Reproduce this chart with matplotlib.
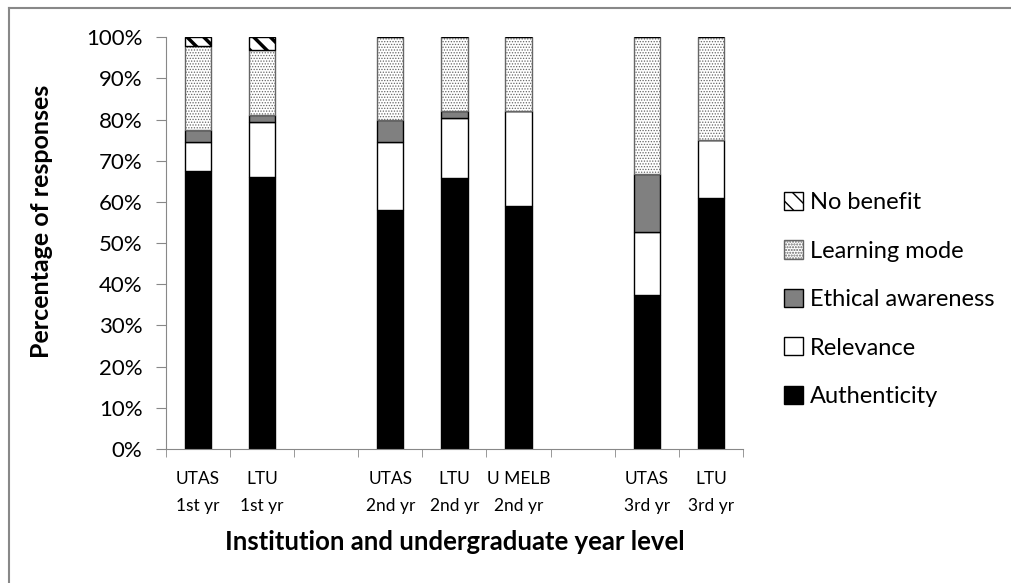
import numpy as np
import matplotlib.pyplot as plt
from matplotlib.lines import Line2D

plt.rcParams['font.family'] = ['Lato', 'DejaVu Sans']

groups = ['UTAS\n1st yr', 'LTU\n1st yr', 'UTAS\n2nd yr', 'LTU\n2nd yr',
          'U MELB\n2nd yr', 'UTAS\n3rd yr', 'LTU\n3rd yr']
slots = [0, 1, 3, 4, 5, 7, 8]   # empty slots 2 and 6 separate year levels

authenticity = [67.5, 66.0, 58.0, 65.8, 59.0, 37.3, 61.0]
relevance    = [7.0, 13.5, 16.5, 14.5, 23.0, 15.5, 14.0]
ethical      = [3.0, 1.7, 5.5, 1.8, 0.0, 13.9, 0.0]
learning     = [20.5, 15.6, 20.0, 17.9, 18.0, 33.3, 25.0]
no_benefit   = [2.0, 3.2, 0.0, 0.0, 0.0, 0.0, 0.0]

# name, values, face, hatch, hatch line width
series = [
    ('Authenticity', authenticity, 'black', None, 1.0),
    ('Relevance', relevance, 'white', None, 1.0),
    ('Ethical awareness', ethical, '#808080', None, 1.0),
    ('Learning mode', learning, 'white', '......', 0.6),
    ('No benefit', no_benefit, 'white', '\\\\', 2.5),
]

fig = plt.figure(figsize=(10.12, 5.83), dpi=100)
ax = fig.add_axes([0.164, 0.23, 0.57, 0.706])

bottom = np.zeros(len(slots))
handles = []
for name, vals, col, hatch, hlw in series:
    vals = np.array(vals) / 100
    with plt.rc_context({'hatch.linewidth': hlw}):
        h = ax.bar(slots, vals, 0.41, bottom=bottom, color=col, hatch=hatch,
                   edgecolor='black', linewidth=1.0, label=name)
    if name == 'Learning mode':
        for p in h:
            p.set_edgecolor('#666666')
    handles.append(h)
    bottom += vals

ax.set_xlim(-0.5, 8.5)
ax.set_ylim(0, 1)
yt = np.arange(0, 1.01, 0.1)
ax.set_yticks(yt)
ax.set_yticklabels([f'{int(round(v * 100))}%' for v in yt], fontsize=16)
ax.set_xticks(slots)
ax.set_xticklabels(groups, fontsize=12.5, linespacing=1.8)
ax.set_xticks(np.arange(-0.5, 8.6, 1), minor=True)
ax.tick_params(axis='x', which='major', length=0, pad=16)
ax.tick_params(axis='x', which='minor', length=6, color='#888888')
ax.tick_params(axis='y', length=7, color='#888888', pad=10)

for s in ['top', 'right']:
    ax.spines[s].set_visible(False)
for s in ['left', 'bottom']:
    ax.spines[s].set_color('#888888')

ax.set_ylabel('Percentage of responses', fontsize=18, fontweight='bold')
ax.yaxis.set_label_coords(-0.195, 0.553)
ax.set_xlabel('Institution and undergraduate year level', fontsize=18.5, fontweight='bold', labelpad=12)

leg = ax.legend(handles[::-1], [s[0] for s in series][::-1], loc='center left',
                bbox_to_anchor=(1.055, 0.363), frameon=False, fontsize=17,
                handlelength=0.8, handleheight=0.8, handletextpad=0.3,
                labelspacing=1.15, borderaxespad=0)

# chart frame: only the left and top edges show in the reference
fig.lines.append(Line2D([0.0085, 0.0085], [0, 0.986], transform=fig.transFigure,
                        color='#888888', linewidth=1.5))
fig.lines.append(Line2D([0.0085, 1], [0.986, 0.986], transform=fig.transFigure,
                        color='#888888', linewidth=1.5))

fig.savefig('out.png', dpi=100)
